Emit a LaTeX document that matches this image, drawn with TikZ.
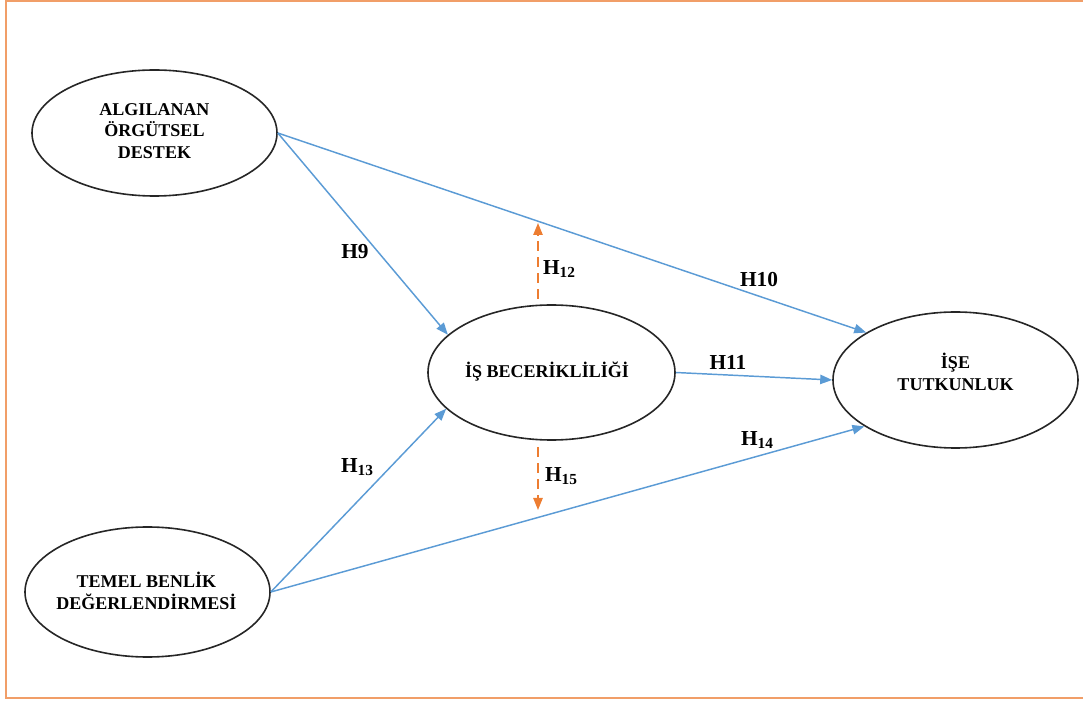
\documentclass[tikz,border=0pt]{standalone}
\usepackage{fontspec}
\setmainfont{Liberation Serif}
\usetikzlibrary{arrows.meta,shapes.geometric}
\definecolor{linkblue}{RGB}{91,155,213}
\definecolor{modorange}{RGB}{237,125,49}
\definecolor{framecol}{RGB}{241,158,104}
% lowered, smaller hypothesis index
\newcommand\hypsub[1]{\raisebox{-2pt}{\fontsize{11.5}{11.5}\selectfont #1}}
\begin{document}
\begin{tikzpicture}[x=0.75pt,y=-0.75pt,
  construct/.style={ellipse, draw=black!85, line width=1.2pt, inner sep=0pt},
  cname/.style={font=\fontsize{13.5}{16}\selectfont\bfseries, align=center, inner sep=0pt},
  link/.style={draw=linkblue, line width=1.1pt, -{Triangle[length=9pt,width=7pt]}},
  moder/.style={draw=modorange, line width=1.1pt, dash pattern=on 7.5pt off 4.5pt,
    -{Triangle[length=9pt,width=7pt]}},
  hyp/.style={font=\fontsize{16}{16}\selectfont\bfseries, inner sep=0pt}]

\useasboundingbox (0,0) rectangle (1083,702);
% outer frame (its right side runs past the page edge)
\draw[framecol, line width=1.5pt] (5.5,1.5) rectangle (1095,697.5);

% constructs
\node[construct, minimum width=183.75pt, minimum height=94.5pt] (A) at (154.5,133) {};
\node[construct, minimum width=185.25pt, minimum height=101.25pt] (B) at (551.5,372.5) {};
\node[construct, minimum width=183.75pt, minimum height=102pt] (C) at (955.5,380) {};
\node[construct, minimum width=183.75pt, minimum height=97.5pt] (D) at (147.5,592) {};

\node[cname] (Atext) at (154.5,131) {ALGILANAN\\ÖRGÜTSEL\\DESTEK};
\node[cname] (Btext) at (547,371.5) {İŞ BECERİKLİLİĞİ};
\node[cname] (Ctext) at (955.5,372) {İŞE\\TUTKUNLUK};
\node[cname] (Dtext) at (146.5,591) {TEMEL BENLİK\\DEĞERLENDİRMESİ};

% direct paths
\draw[link] (A.east) -- (B.160.6);
\draw[link] (A.east) -- (C.152.6);
\draw[link] (B.east) -- (C.west);
\draw[link] (D.east) -- (B.199.4);
\draw[link] (D.east) -- (C.207.9);

% mediation paths
\coordinate (h12tip) at (538,223);
\coordinate (h15tip) at (538,510);
\draw[moder, shorten <=4pt] (h12tip |- B.north) -- (h12tip);
\draw[moder, shorten <=5pt] (h15tip |- B.south) -- (h15tip);

% hypothesis labels
\node[hyp] (H9) at (355,252) {H9};
\node[hyp] (H10) at (759,280) {H10};
\node[hyp] (H11) at (728,362) {H11};
\node[hyp] (H12) at (559,269) {H\hypsub{12}};
\node[hyp] (H13) at (357,467) {H\hypsub{13}};
\node[hyp] (H14) at (757,440) {H\hypsub{14}};
\node[hyp] (H15) at (561,476) {H\hypsub{15}};
\end{tikzpicture}
\end{document}
